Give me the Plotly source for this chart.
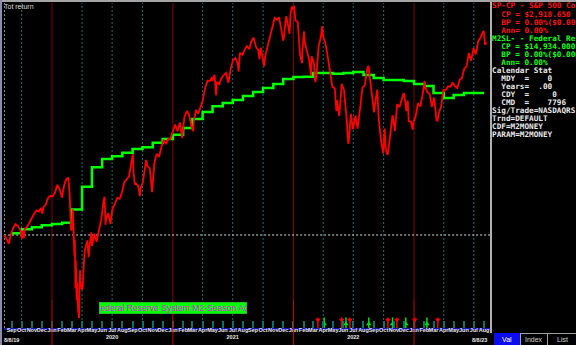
import plotly.graph_objects as go
import pandas as pd

# ---------------- data ----------------
SP_BASE = 2918.65
sp_dates = [
    "2019-08-09", "2019-08-16", "2019-08-23", "2019-08-30", "2019-09-06", "2019-09-13", "2019-09-20", "2019-09-27",
    "2019-10-02", "2019-10-04", "2019-10-08", "2019-10-11", "2019-10-18", "2019-10-25", "2019-11-01", "2019-11-08",
    "2019-11-15", "2019-11-22", "2019-11-29", "2019-12-03", "2019-12-06", "2019-12-13", "2019-12-20", "2019-12-27",
    "2020-01-03", "2020-01-10", "2020-01-17", "2020-01-24", "2020-01-31", "2020-02-07", "2020-02-14", "2020-02-19",
    "2020-02-21", "2020-02-24", "2020-02-27", "2020-02-28", "2020-03-03", "2020-03-04", "2020-03-06", "2020-03-09",
    "2020-03-10", "2020-03-12", "2020-03-13", "2020-03-16", "2020-03-17", "2020-03-18", "2020-03-20", "2020-03-23",
    "2020-03-24", "2020-03-26", "2020-03-27", "2020-04-01", "2020-04-03", "2020-04-06", "2020-04-09", "2020-04-17",
    "2020-04-21", "2020-04-24", "2020-04-29", "2020-05-01", "2020-05-08", "2020-05-15", "2020-05-22", "2020-05-29",
    "2020-06-05", "2020-06-08", "2020-06-11", "2020-06-12", "2020-06-19", "2020-06-26", "2020-07-02", "2020-07-10",
    "2020-07-17", "2020-07-24", "2020-07-31", "2020-08-07", "2020-08-14", "2020-08-21", "2020-08-28", "2020-09-02",
    "2020-09-04", "2020-09-08", "2020-09-11", "2020-09-18", "2020-09-23", "2020-09-25", "2020-10-02", "2020-10-09",
    "2020-10-12", "2020-10-16", "2020-10-23", "2020-10-30", "2020-11-06", "2020-11-13", "2020-11-20", "2020-11-27",
    "2020-12-04", "2020-12-11", "2020-12-18", "2020-12-24", "2020-12-31", "2021-01-08", "2021-01-15", "2021-01-22",
    "2021-01-29", "2021-02-05", "2021-02-12", "2021-02-19", "2021-02-26", "2021-03-04", "2021-03-05", "2021-03-12",
    "2021-03-19", "2021-03-26", "2021-04-01", "2021-04-09", "2021-04-16", "2021-04-23", "2021-04-29", "2021-04-30",
    "2021-05-07", "2021-05-12", "2021-05-14", "2021-05-21", "2021-05-28", "2021-06-04", "2021-06-11", "2021-06-18",
    "2021-06-25", "2021-07-02", "2021-07-09", "2021-07-16", "2021-07-19", "2021-07-23", "2021-07-30", "2021-08-06",
    "2021-08-13", "2021-08-20", "2021-08-27", "2021-09-02", "2021-09-10", "2021-09-17", "2021-09-20", "2021-09-24",
    "2021-10-01", "2021-10-04", "2021-10-08", "2021-10-15", "2021-10-22", "2021-10-29", "2021-11-05", "2021-11-12",
    "2021-11-18", "2021-11-26", "2021-12-01", "2021-12-03", "2021-12-10", "2021-12-17", "2021-12-20", "2021-12-23",
    "2021-12-27", "2021-12-31", "2022-01-03", "2022-01-07", "2022-01-14", "2022-01-21", "2022-01-27", "2022-01-28",
    "2022-02-02", "2022-02-04", "2022-02-11", "2022-02-18", "2022-02-23", "2022-02-25", "2022-03-04", "2022-03-08",
    "2022-03-11", "2022-03-18", "2022-03-25", "2022-03-29", "2022-04-01", "2022-04-08", "2022-04-14", "2022-04-22",
    "2022-04-29", "2022-05-06", "2022-05-11", "2022-05-13", "2022-05-19", "2022-05-20", "2022-05-27", "2022-06-03",
    "2022-06-10", "2022-06-16", "2022-06-17", "2022-06-24", "2022-06-30", "2022-07-08", "2022-07-14", "2022-07-22",
    "2022-07-29", "2022-08-05", "2022-08-12", "2022-08-16", "2022-08-19", "2022-08-26", "2022-09-02", "2022-09-09",
    "2022-09-12", "2022-09-16", "2022-09-23", "2022-09-30", "2022-10-04", "2022-10-07", "2022-10-12", "2022-10-14",
    "2022-10-21", "2022-10-28", "2022-11-04", "2022-11-11", "2022-11-18", "2022-11-25", "2022-11-30", "2022-12-02",
    "2022-12-09", "2022-12-13", "2022-12-16", "2022-12-23", "2022-12-28", "2022-12-30", "2023-01-06", "2023-01-13",
    "2023-01-20", "2023-01-27", "2023-02-02", "2023-02-03", "2023-02-10", "2023-02-17", "2023-02-24", "2023-03-03",
    "2023-03-10", "2023-03-13", "2023-03-17", "2023-03-24", "2023-03-31", "2023-04-06", "2023-04-14", "2023-04-21",
    "2023-04-28", "2023-05-05", "2023-05-12", "2023-05-19", "2023-05-26", "2023-06-02", "2023-06-09", "2023-06-16",
    "2023-06-23", "2023-06-30", "2023-07-07", "2023-07-14", "2023-07-21", "2023-07-28", "2023-07-31", "2023-08-04",
    "2023-08-08",
]
sp_close = [
    2918.65, 2888.68, 2847.11, 2926.46, 2978.71, 3007.39, 2992.07, 2961.79,
    2887.61, 2952.01, 2893.06, 2970.27, 2986.20, 3022.55, 3066.91, 3093.08,
    3120.46, 3110.29, 3140.98, 3093.20, 3145.91, 3168.80, 3221.22, 3240.02,
    3234.85, 3265.35, 3329.62, 3295.47, 3225.52, 3327.71, 3380.16, 3386.15,
    3337.75, 3225.89, 2978.76, 2954.22, 3003.37, 3130.12, 2972.37, 2746.56,
    2882.23, 2480.64, 2711.02, 2386.13, 2529.19, 2398.10, 2304.92, 2237.40,
    2447.33, 2630.07, 2541.47, 2470.50, 2488.65, 2663.68, 2789.82, 2874.56,
    2736.56, 2836.74, 2939.51, 2830.71, 2929.80, 2863.70, 2955.45, 3044.31,
    3193.93, 3232.39, 3002.10, 3041.31, 3097.74, 3009.05, 3130.01, 3185.04,
    3224.73, 3215.63, 3271.12, 3351.28, 3372.85, 3397.16, 3508.01, 3580.84,
    3426.96, 3331.84, 3340.97, 3319.47, 3236.92, 3298.46, 3348.44, 3477.14,
    3534.22, 3483.81, 3465.39, 3269.96, 3509.44, 3585.15, 3557.54, 3638.35,
    3699.12, 3663.46, 3709.41, 3703.06, 3756.07, 3824.68, 3768.25, 3841.47,
    3714.24, 3886.83, 3934.83, 3906.71, 3811.15, 3768.47, 3841.94, 3943.34,
    3913.10, 3974.54, 4019.87, 4128.80, 4185.47, 4180.17, 4211.47, 4181.17,
    4232.60, 4063.04, 4173.85, 4155.86, 4204.11, 4229.89, 4247.44, 4166.45,
    4280.70, 4352.34, 4369.55, 4327.16, 4258.49, 4411.79, 4395.26, 4436.52,
    4468.00, 4441.67, 4509.37, 4536.95, 4458.58, 4432.99, 4357.73, 4455.48,
    4357.04, 4300.46, 4391.34, 4471.37, 4544.90, 4605.38, 4697.53, 4682.85,
    4704.54, 4594.62, 4513.04, 4538.43, 4712.02, 4620.64, 4568.02, 4725.79,
    4791.19, 4766.18, 4796.56, 4677.03, 4662.85, 4397.94, 4326.51, 4431.85,
    4589.38, 4500.53, 4418.64, 4348.87, 4225.50, 4384.65, 4328.87, 4170.70,
    4204.31, 4463.12, 4543.06, 4631.60, 4545.86, 4488.28, 4392.59, 4271.78,
    4131.93, 4123.34, 3935.18, 4023.89, 3900.79, 3901.36, 4158.24, 4108.54,
    3900.86, 3666.77, 3674.84, 3911.74, 3785.38, 3899.38, 3790.38, 3961.63,
    4130.29, 4145.19, 4280.15, 4305.20, 4228.48, 4057.66, 3924.26, 4067.36,
    4110.41, 3873.33, 3693.23, 3585.62, 3790.93, 3639.66, 3577.03, 3583.07,
    3752.75, 3901.06, 3770.55, 3992.93, 3965.34, 4026.12, 4080.11, 4071.70,
    3934.38, 4019.65, 3852.36, 3844.82, 3783.22, 3839.50, 3895.08, 3999.09,
    3972.61, 4070.56, 4179.76, 4136.48, 4090.46, 4079.09, 3970.04, 4045.64,
    3861.59, 3855.76, 3916.64, 3970.99, 4109.31, 4105.02, 4137.64, 4133.52,
    4169.48, 4136.25, 4124.08, 4191.98, 4205.45, 4282.37, 4298.86, 4409.59,
    4348.33, 4450.38, 4398.95, 4505.42, 4536.34, 4582.23, 4588.96, 4478.03,
    4499.38,
]

M2_BASE = 14934.0
m2_months = [
    "2019-09", "2019-10", "2019-11", "2019-12",
    "2020-01", "2020-02", "2020-03", "2020-04", "2020-05", "2020-06",
    "2020-07", "2020-08", "2020-09", "2020-10", "2020-11", "2020-12",
    "2021-01", "2021-02", "2021-03", "2021-04", "2021-05", "2021-06",
    "2021-07", "2021-08", "2021-09", "2021-10", "2021-11", "2021-12",
    "2022-01", "2022-02", "2022-03", "2022-04", "2022-05", "2022-06",
    "2022-07", "2022-08", "2022-09", "2022-10", "2022-11", "2022-12",
    "2023-01", "2023-02", "2023-03", "2023-04", "2023-05", "2023-06",
    "2023-07", "2023-08",
]
m2_level = [
    15010, 15170, 15260, 15340,
    15400, 15450, 16000, 16960, 17780, 18120,
    18240, 18380, 18540, 18610, 18800, 18960,
    19140, 19420, 19800, 20090, 20330, 20470,
    20600, 20760, 20930, 21100, 21270, 21480,
    21560, 21570, 21730, 21730, 21700, 21730,
    21770, 21650, 21520, 21440, 21440, 21390,
    21270, 21180, 20890, 20680, 20810, 20890,
    20890, 20890,
]

sig_sell = ["2022-03-16", "2022-05-27", "2022-06-21", "2022-10-14", "2022-11-10", "2023-01-03", "2023-03-14"]
sig_buy = ["2022-04-04", "2022-06-09", "2022-08-17", "2022-10-28", "2022-12-07", "2023-02-09"]

START_DATE = "2019-08-09"
MONTH_NAMES = ["Jan", "Feb", "Mar", "Apr", "May", "Jun", "Jul", "Aug", "Sep", "Oct", "Nov", "Dec"]
YEAR_LABELS = {2020: "2020", 2021: "2021", 2022: "2022"}
START_LABEL = "8/8/19"
END_LABEL = "8/8/23"
LEGEND_TEXT = "Federal Reserve System M2-Season Adj"

RED, GREEN, WHITE = "#ff1010", "#10ff10", "#e8e8e8"
panel_lines = [
    ("SP-CP - S&P 500 Co", RED),
    ("  CP = $2,918.650", RED),
    ("  BP = 0.00%($0.000", RED),
    ("  Ann= 0.00%", RED),
    ("M2SL- - Federal Re", GREEN),
    ("  CP = $14,934.000", GREEN),
    ("  BP = 0.00%($0.000", GREEN),
    ("  Ann= 0.00%", GREEN),
    ("Calendar Stat", WHITE),
    ("  MDY  =    0", WHITE),
    ("  Years=  .00", WHITE),
    ("  CDY  =     0", WHITE),
    ("  CMD  =    7796", WHITE),
    ("Sig/Trade=NASDAQRS", WHITE),
    ("Trnd=DEFAULT", WHITE),
    ("CDF=M2MONEY", WHITE),
    ("PARAM=M2MONEY", WHITE),
]
tab_labels = ["Val", "Index", "List"]

# ---------------- derived ----------------
sp_ret = [(c / SP_BASE - 1) * 100 for c in sp_close]
m2_ret = [(v / M2_BASE - 1) * 100 for v in m2_level]
m2_dates = [m + "-01" for m in m2_months]

# ---------------- layout geometry ----------------
FW, FH = 576, 345
PL, PR, PT, PB = 4, 490, 3, 328
K = 3.56          # px per percent
Y0PX = 235        # pixel row of 0 %
y_range = [(Y0PX - PB) / K, (Y0PX - PT) / K]
x_range = ["2019-08-08 17:00", "2023-08-19 00:00"]
PANEL_ROWS = [5.5] + [14.5 + i * 8.0 for i in range(len(panel_lines) - 1)]


def px_x(p):
    return (p - PL) / (PR - PL)


def px_y(p):
    return (PB - p) / (PB - PT)


LABEL_FONT = "Liberation Sans Narrow, Liberation Sans, Arial"

fig = go.Figure()

fig.add_trace(go.Scatter(x=m2_dates, y=m2_ret, mode="lines",
                         line=dict(color="#00ff00", width=2.5, shape="hv"),
                         hoverinfo="skip", showlegend=False))
fig.add_trace(go.Scatter(x=sp_dates, y=sp_ret, mode="lines",
                         line=dict(color="#ff0000", width=1.8),
                         hoverinfo="skip", showlegend=False))

# signal pins (on an overlay axis measured in pixels above the date axis)
for dates, col, head, hy in [(sig_sell, "#ff0000", "triangle-down", 8), (sig_buy, "#00e000", "triangle-up", 4)]:
    fig.add_trace(go.Scatter(x=dates, y=[5] * len(dates), yaxis="y2", mode="markers",
                             marker=dict(symbol="line-ns", size=8, line=dict(color=col, width=1.5)),
                             hoverinfo="skip", showlegend=False))
    fig.add_trace(go.Scatter(x=dates, y=[hy] * len(dates), yaxis="y2", mode="markers",
                             marker=dict(symbol=head, size=5, color=col, line=dict(width=0)),
                             hoverinfo="skip", showlegend=False))

shapes = []
# quarter dashed lines and January lines
for d in pd.date_range("2019-10-01", "2023-07-01", freq="QS-JAN"):
    if d.month == 1:
        shapes.append(dict(type="line", xref="x", yref="paper", x0=d, x1=d, y0=px_y(300), y1=1,
                           line=dict(color="#8a0000", width=1), layer="below"))
        shapes.append(dict(type="line", xref="x", yref="paper", x0=d, x1=d, y0=px_y(345), y1=px_y(300),
                           line=dict(color="#d00000", width=1), layer="above"))
    else:
        shapes.append(dict(type="line", xref="x", yref="paper", x0=d, x1=d, y0=0, y1=1,
                           line=dict(color="#0b7676", width=1, dash="2px,2px"), layer="below"))
# start marker lines
shapes.append(dict(type="line", xref="x", yref="paper", x0=START_DATE, x1=START_DATE, y0=0, y1=1,
                   line=dict(color="#d8d8d8", width=1, dash="2px,2px"), layer="below"))
shapes.append(dict(type="line", xref="x", yref="y", x0=START_DATE, x1=x_range[1], y0=0, y1=0,
                   line=dict(color="#d8d8d8", width=1, dash="2px,2px"), layer="below"))
# window chrome
shapes.append(dict(type="rect", xref="paper", yref="paper", x0=px_x(0), x1=px_x(FW), y0=px_y(2), y1=px_y(0),
                   fillcolor="#a4a4a4", line=dict(width=0)))
shapes.append(dict(type="rect", xref="paper", yref="paper", x0=px_x(0), x1=px_x(2), y0=px_y(FH), y1=px_y(0),
                   fillcolor="#8c8cac", line=dict(width=0)))
shapes.append(dict(type="rect", xref="paper", yref="paper", x0=px_x(490), x1=px_x(492), y0=px_y(333), y1=px_y(2),
                   fillcolor="#b0b0b0", line=dict(width=0)))
# tabs
shapes.append(dict(type="rect", xref="paper", yref="paper", x0=px_x(494), x1=px_x(520), y0=px_y(FH), y1=px_y(333),
                   fillcolor="#0c0cf0", line=dict(width=0)))
shapes.append(dict(type="line", xref="paper", yref="paper", x0=px_x(520), x1=px_x(FW), y0=px_y(333.5), y1=px_y(333.5),
                   line=dict(color="#a0a0a0", width=1)))
for xp in (520.5, 547.5):
    shapes.append(dict(type="line", xref="paper", yref="paper", x0=px_x(xp), x1=px_x(xp), y0=px_y(FH), y1=px_y(333.5),
                       line=dict(color="#a0a0a0", width=1)))

annotations = []
annotations.append(dict(text="Tot return", xref="paper", yref="paper", x=px_x(2), y=px_y(6.5),
                        xanchor="left", yanchor="middle", showarrow=False,
                        font=dict(family="Liberation Sans, Arial", size=7, color="#d8d8d8")))
annotations.append(dict(text=LEGEND_TEXT, xref="paper", yref="paper", x=px_x(172.5), y=px_y(307.5),
                        xanchor="center", yanchor="middle", showarrow=False, width=146, height=10,
                        bgcolor="#00ff00", bordercolor="#20c020", borderwidth=1, borderpad=0,
                        font=dict(family="Liberation Sans, Arial", size=8.6, color="#e020e8")))
annotations.append(dict(text=START_LABEL, xref="paper", yref="paper", x=px_x(2), y=px_y(339.5),
                        xanchor="left", yanchor="middle", showarrow=False,
                        font=dict(family=LABEL_FONT, size=5.5, color="#e6e6e6", weight="bold")))
annotations.append(dict(text=END_LABEL, xref="paper", yref="paper", x=px_x(489), y=px_y(339.5),
                        xanchor="right", yanchor="middle", showarrow=False,
                        font=dict(family=LABEL_FONT, size=5.5, color="#e6e6e6", weight="bold")))
for (txt, col), row in zip(panel_lines, PANEL_ROWS):
    annotations.append(dict(text=txt.replace(" ", "\u00a0"), xref="paper", yref="paper",
                            x=px_x(489.5), y=px_y(row), xanchor="left", yanchor="middle",
                            showarrow=False,
                            font=dict(family="DejaVu Sans Mono", size=7.7, color=col, weight="bold")))
for lab, cx in zip(tab_labels, (507, 534, 562)):
    annotations.append(dict(text=lab, xref="paper", yref="paper", x=px_x(cx), y=px_y(339.5),
                            xanchor="center", yanchor="middle", showarrow=False,
                            font=dict(family=LABEL_FONT, size=7,
                                      color="#ffffff" if lab == "Val" else "#d0d0d0")))

tick_dates = pd.date_range("2019-09-01", "2023-08-01", freq="MS")
tick_text = [MONTH_NAMES[d.month - 1] + ("<br>" + YEAR_LABELS[d.year] if d.month == 7 and d.year in YEAR_LABELS else "")
             for d in tick_dates]

fig.update_layout(
    width=FW, height=FH,
    margin=dict(l=PL, r=FW - PR, t=PT, b=FH - PB, pad=0, autoexpand=False),
    paper_bgcolor="#000000", plot_bgcolor="#000000",
    showlegend=False,
    xaxis=dict(type="date", range=x_range, showgrid=False, zeroline=False,
               showline=True, linecolor="#1414b4", linewidth=2,
               ticks="inside", ticklen=7, tickwidth=1.5, tickcolor="#0b7070",
               tickmode="array", tickvals=tick_dates, ticktext=tick_text, tickangle=0,
               ticklabelstandoff=-5,
               tickfont=dict(family=LABEL_FONT, size=5.5, color="#e6e6e6", weight="bold"),
               fixedrange=True),
    yaxis=dict(range=y_range, showgrid=False, zeroline=False, showticklabels=False,
               ticks="", showline=False, fixedrange=True),
    yaxis2=dict(range=[0, PB - PT], overlaying="y", showgrid=False, zeroline=False,
                showticklabels=False, showline=False, visible=False, fixedrange=True),
    shapes=shapes,
    annotations=annotations,
)

fig.write_html("out.html")
